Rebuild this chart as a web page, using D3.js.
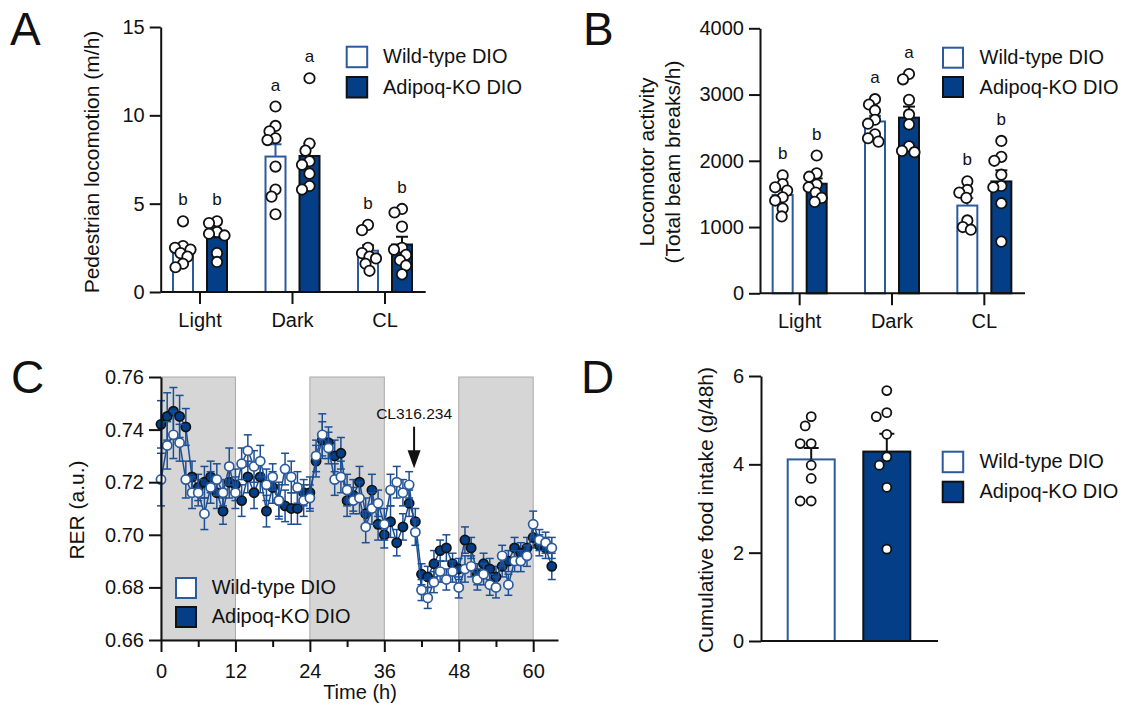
<!DOCTYPE html>
<html>
<head>
<meta charset="utf-8">
<script src="https://cdn.jsdelivr.net/npm/d3@7"></script>
<style>
  body { margin: 0; background: #fff; }
  svg text { font-family: "Liberation Sans", Arial, sans-serif; fill: #111; }
</style>
</head>
<body>
<svg id="fig" width="1132" height="706"></svg>
<script>
// ---- data ----
const periods = ["Light", "Dark", "CL"];
const groups = ["Wild-type DIO", "Adipoq-KO DIO"];

// A: pedestrian locomotion (m/h), one value per animal
const pedWT = [
  [4.0, 2.6, 2.5, 2.4, 2.2, 2.0, 1.6, 1.4],
  [10.5, 9.4, 9.1, 8.7, 8.6, 7.1, 5.8, 5.4, 4.4],
  [3.8, 3.5, 2.5, 2.2, 2.0, 1.9, 1.6, 1.2]
];
const pedKO = [
  [4.0, 3.9, 3.4, 3.3, 3.2, 2.2, 1.7],
  [12.1, 8.4, 8.0, 7.4, 7.2, 6.7, 6.0, 5.8],
  [4.7, 4.5, 3.7, 2.5, 2.4, 2.1, 1.8, 1.5, 1.0]
];
const pedLetters = [["b", "b"], ["a", "a"], ["b", "b"]];
const pedTicks = [0, 5, 10, 15];

// B: locomotor activity (beam breaks/h)
const beamWT = [
  [1780, 1650, 1600, 1550, 1450, 1400, 1280, 1160],
  [2930, 2850, 2760, 2620, 2560, 2400, 2340, 2290],
  [1690, 1560, 1520, 1440, 1100, 1000, 960]
];
const beamKO = [
  [2080, 1810, 1760, 1640, 1600, 1520, 1440, 1380],
  [3310, 3230, 2920, 2700, 2550, 2220, 2150, 2130],
  [2300, 2060, 2000, 1790, 1620, 1600, 1360, 780]
];
const beamLetters = [["b", "b"], ["a", "a"], ["b", "b"]];
const beamTicks = [0, 1000, 2000, 3000, 4000];

// C: RER time course, hourly means and SEM
const hours = d3.range(64);
const rerWT = [0.721, 0.734, 0.738, 0.735, 0.721, 0.716, 0.716, 0.708, 0.718, 0.721,
  0.716, 0.726, 0.716, 0.727, 0.732, 0.726, 0.728, 0.719, 0.722, 0.713,
  0.725, 0.722, 0.718, 0.713, 0.714, 0.730, 0.738, 0.733, 0.721, 0.722,
  0.717, 0.713, 0.714, 0.703, 0.710, 0.712, 0.704, 0.717, 0.720, 0.716,
  0.719, 0.701, 0.679, 0.676, 0.682, 0.686, 0.683, 0.686, 0.680, 0.687,
  0.688, 0.683, 0.685, 0.681, 0.680, 0.692, 0.681, 0.690, 0.690, 0.692,
  0.704, 0.698, 0.697, 0.695];
const rerKO = [0.742, 0.745, 0.747, 0.745, 0.741, 0.722, 0.718, 0.720, 0.722, 0.716,
  0.709, 0.720, 0.719, 0.713, 0.722, 0.716, 0.722, 0.709, 0.718, 0.713,
  0.711, 0.710, 0.710, 0.716, 0.716, 0.728, 0.736, 0.735, 0.730, 0.731,
  0.713, 0.715, 0.720, 0.708, 0.717, 0.704, 0.700, 0.705, 0.697, 0.703,
  0.712, 0.705, 0.685, 0.684, 0.689, 0.694, 0.695, 0.689, 0.687, 0.698,
  0.695, 0.685, 0.689, 0.687, 0.684, 0.688, 0.690, 0.695, 0.693, 0.695,
  0.699, 0.696, 0.695, 0.688];
const semWT = [0.010, 0.009, 0.009, 0.007, 0.007, 0.006, 0.005, 0.006, 0.006, 0.006,
  0.005, 0.007, 0.006, 0.006, 0.006, 0.006, 0.006, 0.006, 0.005, 0.007,
  0.006, 0.006, 0.006, 0.006, 0.005, 0.006, 0.008, 0.006, 0.006, 0.006,
  0.006, 0.005, 0.006, 0.006, 0.006, 0.005, 0.006, 0.006, 0.006, 0.005,
  0.005, 0.005, 0.004, 0.004, 0.004, 0.004, 0.004, 0.004, 0.004, 0.005,
  0.004, 0.004, 0.004, 0.004, 0.004, 0.004, 0.004, 0.004, 0.004, 0.004,
  0.005, 0.004, 0.004, 0.004];
const semKO = [0.009, 0.009, 0.009, 0.008, 0.007, 0.006, 0.005, 0.006, 0.006, 0.006,
  0.005, 0.006, 0.006, 0.006, 0.006, 0.006, 0.006, 0.006, 0.006, 0.006,
  0.006, 0.006, 0.006, 0.005, 0.006, 0.006, 0.007, 0.006, 0.006, 0.006,
  0.006, 0.006, 0.006, 0.006, 0.006, 0.006, 0.005, 0.006, 0.005, 0.005,
  0.005, 0.005, 0.004, 0.004, 0.005, 0.004, 0.005, 0.004, 0.004, 0.005,
  0.004, 0.004, 0.004, 0.004, 0.004, 0.004, 0.004, 0.004, 0.004, 0.004,
  0.004, 0.004, 0.004, 0.005];
const darkPhases = [[0, 12], [24, 36], [48, 60]];
const rerTicks = [0.66, 0.68, 0.70, 0.72, 0.74, 0.76];
const timeTicks = [0, 6, 12, 18, 24, 30, 36, 42, 48, 54, 60];
const clInjection = { time: 40.8, label: "CL316.234" };

// D: cumulative food intake (g/48h)
const foodWT = [5.08, 4.87, 4.47, 4.47, 3.98, 3.68, 3.17, 3.17];
const foodKO = [5.67, 5.17, 5.08, 4.68, 4.17, 3.98, 3.48, 2.08];
const foodTicks = [0, 2, 4, 6];

// ---- styles ----
const NAVY = "#033e86";
const WTBLUE = "#2c5b9c";
const LINEBLUE = "#1d4f94";
const intFmt = d3.format("d");

const svg = d3.select("#fig");

function styleAxis(g, size) {
  g.select(".domain").attr("stroke", "#111").attr("stroke-width", 2);
  g.selectAll(".tick line").attr("stroke", "#111").attr("stroke-width", 2);
  g.selectAll(".tick text").attr("font-size", size || 20)
    .attr("font-family", "Liberation Sans, Arial, sans-serif").attr("fill", "#111");
  g.attr("font-family", null);
}

// simple beeswarm: points sorted by value, pushed sideways until they stop overlapping,
// but never further than maxOff from the column centre
function swarm(vals, y, dmin, maxOff) {
  const order = d3.range(vals.length).sort((a, b) => vals[b] - vals[a]);
  const placed = [];
  const off = new Array(vals.length).fill(0);
  order.forEach(i => {
    const yi = y(vals[i]);
    let best = 0, bestGap = -1;
    for (let k = 0; k < 400; k++) {
      const c = (k % 2 === 0 ? 1 : -1) * Math.ceil(k / 2) * 0.5;
      if (Math.abs(c) > maxOff) break;
      const gap = placed.length ? d3.min(placed, p => Math.hypot(p.x - c, p.y - yi)) : Infinity;
      if (gap >= dmin) { best = c; bestGap = gap; break; }
      if (gap > bestGap) { bestGap = gap; best = c; }
    }
    off[i] = best;
    placed.push({ x: best, y: yi });
  });
  return off;
}

function legend(x, tops, size, textX, baselines) {
  groups.forEach((grp, j) => {
    svg.append("rect")
      .attr("x", x + 1).attr("y", tops[j] + 1)
      .attr("width", size - 2).attr("height", size - 2)
      .attr("fill", j ? NAVY : "#fff")
      .attr("stroke", j ? "#111" : WTBLUE).attr("stroke-width", 2);
    svg.append("text").attr("x", textX).attr("y", baselines[j])
      .attr("font-size", 20).text(grp);
  });
}

function panelLetter(txt, x, y) {
  svg.append("text").attr("x", x).attr("y", y).attr("font-size", 46).text(txt);
}

function yTitle(lines, x, y, lh) {
  const t = svg.append("text").attr("transform", `translate(${x},${y}) rotate(-90)`)
    .attr("text-anchor", "middle").attr("font-size", 21);
  lines.forEach((l, i) => {
    t.append("tspan").attr("x", 0).attr("y", (i - (lines.length - 1)) * lh).text(l);
  });
}

// ---- A and B: grouped bars with individual points ----
function barPanel(p) {
  const g = svg.append("g");
  const x = d3.scaleBand().domain(periods).range(p.xRange);
  const y = d3.scaleLinear().domain(p.yDomain).range(p.yRange);
  const sub = d3.scaleOrdinal().domain(groups).range([-17, 17]);
  const bw = 20;
  const sets = [p.wt, p.ko];

  periods.forEach((per, i) => {
    groups.forEach((grp, j) => {
      const vals = sets[j][i];
      const cx = x(per) + x.bandwidth() / 2 + sub(grp);
      const m = d3.mean(vals);
      const se = d3.deviation(vals) / Math.sqrt(vals.length);
      const col = j ? "#111" : WTBLUE;

      g.append("rect")
        .attr("x", cx - bw / 2).attr("y", y(m))
        .attr("width", bw).attr("height", y(0) - y(m))
        .attr("fill", j ? NAVY : "#fff")
        .attr("stroke", col).attr("stroke-width", 2);

      g.append("line").attr("x1", cx).attr("x2", cx)
        .attr("y1", y(m)).attr("y2", y(m + se))
        .attr("stroke", col).attr("stroke-width", 2);
      g.append("line").attr("x1", cx - 6).attr("x2", cx + 6)
        .attr("y1", y(m + se)).attr("y2", y(m + se))
        .attr("stroke", col).attr("stroke-width", 2);

      const off = swarm(vals, y, 8, 8);
      g.selectAll(null).data(vals).enter().append("circle")
        .attr("cx", (d, k) => cx + off[k])
        .attr("cy", d => y(d))
        .attr("r", 5.2)
        .attr("fill", "#fff").attr("stroke", "#111").attr("stroke-width", 1.8);

      g.append("text").attr("x", cx).attr("y", y(d3.max(vals)) - 16)
        .attr("text-anchor", "middle").attr("font-size", 17)
        .text(p.letters[i][j]);
    });
  });

  const ax = g.append("g").attr("transform", `translate(0,${y(0)})`)
    .call(d3.axisBottom(x).tickSize(12).tickPadding(9).tickSizeOuter(0));
  ax.select(".domain").attr("d", `M${p.axisX[0]},0H${p.axisX[1]}`);
  styleAxis(ax, 20);

  const ay = g.append("g").attr("transform", `translate(${p.axisX[0]},0)`)
    .call(d3.axisLeft(y).tickValues(p.ticks).tickFormat(intFmt)
      .tickSize(11).tickPadding(5).tickSizeOuter(0));
  styleAxis(ay, 20);
}

barPanel({
  wt: pedWT, ko: pedKO, letters: pedLetters, ticks: pedTicks,
  xRange: [153.75, 431.25], yDomain: [0, 15], yRange: [292, 27], axisX: [160.7, 425.7]
});
barPanel({
  wt: beamWT, ko: beamKO, letters: beamLetters, ticks: beamTicks,
  xRange: [753.5, 1030.5], yDomain: [0, 4000], yRange: [293.3, 28.3], axisX: [760, 1025]
});

// ---- C: RER time course ----
{
  const g = svg.append("g");
  const x = d3.scaleLinear().domain([0, 64]).range([161, 558]);
  const y = d3.scaleLinear().domain([0.66, 0.76]).range([640, 377]);

  g.selectAll(null).data(darkPhases).enter().append("rect")
    .attr("x", d => x(d[0])).attr("y", y(0.76))
    .attr("width", d => x(d[1]) - x(d[0])).attr("height", y(0.66) - y(0.76))
    .attr("fill", "#d6d6d6").attr("stroke", "#a9a9a9").attr("stroke-width", 1);

  const series = [
    { vals: rerKO, sem: semKO, fill: NAVY, stroke: "#111" },
    { vals: rerWT, sem: semWT, fill: "#fff", stroke: WTBLUE }
  ];
  const line = d3.line().x((d, i) => x(hours[i])).y(d => y(d));

  series.forEach(s => {
    g.append("path").datum(s.vals).attr("d", line)
      .attr("fill", "none").attr("stroke", LINEBLUE).attr("stroke-width", 1.5);
    const eb = g.append("g").attr("stroke", LINEBLUE).attr("stroke-width", 1.5);
    hours.forEach((h, i) => {
      const lo = y(s.vals[i] - s.sem[i]), hi = y(s.vals[i] + s.sem[i]);
      eb.append("line").attr("x1", x(h)).attr("x2", x(h)).attr("y1", lo).attr("y2", hi);
      eb.append("line").attr("x1", x(h) - 4).attr("x2", x(h) + 4).attr("y1", lo).attr("y2", lo);
      eb.append("line").attr("x1", x(h) - 4).attr("x2", x(h) + 4).attr("y1", hi).attr("y2", hi);
    });
    g.selectAll(null).data(s.vals).enter().append("circle")
      .attr("cx", (d, i) => x(hours[i])).attr("cy", d => y(d))
      .attr("r", 4.6).attr("fill", s.fill)
      .attr("stroke", s.stroke).attr("stroke-width", 1.7);
  });

  // injection arrow
  const ax0 = x(clInjection.time);
  g.append("text").attr("x", ax0).attr("y", y(0.7439))
    .attr("text-anchor", "middle").attr("font-size", 15.5).attr("fill", "#333")
    .text(clInjection.label);
  g.append("line").attr("x1", ax0).attr("x2", ax0)
    .attr("y1", y(0.7411)).attr("y2", y(0.7315))
    .attr("stroke", "#111").attr("stroke-width", 2);
  const tip = y(0.7253);
  g.append("path").attr("d", `M${ax0 - 6.5},${tip - 18}L${ax0 + 6.5},${tip - 18}L${ax0},${tip}Z`)
    .attr("fill", "#111");

  const xa = g.append("g").attr("transform", `translate(0,${y(0.66)})`)
    .call(d3.axisBottom(x).tickValues(timeTicks).tickSize(12).tickPadding(12).tickSizeOuter(0)
      .tickFormat(d => d % 12 === 0 ? d : ""));
  xa.selectAll(".tick").filter(d => d % 12 !== 0).select("line").attr("y2", 7);
  styleAxis(xa, 20);

  const ya = g.append("g").attr("transform", `translate(${x(0)},0)`)
    .call(d3.axisLeft(y).tickValues(rerTicks).tickFormat(d3.format(".2f"))
      .tickSize(12).tickPadding(5).tickSizeOuter(0));
  styleAxis(ya, 20);

  svg.append("text").attr("x", 360).attr("y", 699).attr("text-anchor", "middle")
    .attr("font-size", 20).text("Time (h)");
}

// ---- D: food intake ----
{
  const g = svg.append("g");
  const x = d3.scaleBand().domain(groups).range([773.4, 924.6]);
  const y = d3.scaleLinear().domain([0, 6]).range([641, 376]);
  const bw = 47;
  [foodWT, foodKO].forEach((vals, j) => {
    const cx = x(groups[j]) + x.bandwidth() / 2;
    const m = d3.mean(vals);
    const se = d3.deviation(vals) / Math.sqrt(vals.length);
    g.append("rect").attr("x", cx - bw / 2).attr("y", y(m))
      .attr("width", bw).attr("height", y(0) - y(m))
      .attr("fill", j ? NAVY : "#fff")
      .attr("stroke", j ? "#111" : WTBLUE).attr("stroke-width", 2);
    g.append("line").attr("x1", cx).attr("x2", cx).attr("y1", y(m)).attr("y2", y(m + se))
      .attr("stroke", "#111").attr("stroke-width", 2);
    g.append("line").attr("x1", cx - 7.5).attr("x2", cx + 7.5).attr("y1", y(m + se)).attr("y2", y(m + se))
      .attr("stroke", "#111").attr("stroke-width", 2);
    const off = swarm(vals, y, 11, 13);
    g.selectAll(null).data(vals).enter().append("circle")
      .attr("cx", (d, k) => cx + off[k]).attr("cy", d => y(d))
      .attr("r", 4.5).attr("fill", "#fff").attr("stroke", "#111").attr("stroke-width", 1.8);
  });

  const xa = g.append("g").attr("transform", `translate(0,${y(0)})`)
    .call(d3.axisBottom(x).tickSize(0).tickFormat(""));
  xa.select(".domain").attr("d", "M761,0H938");
  styleAxis(xa, 20);
  const ya = g.append("g").attr("transform", "translate(761,0)")
    .call(d3.axisLeft(y).tickValues(foodTicks).tickFormat(intFmt)
      .tickSize(12).tickPadding(5).tickSizeOuter(0));
  styleAxis(ya, 20);
}

// ---- titles, legends, panel letters ----
yTitle(["Pedestrian locomotion (m/h)"], 99, 162, 26);
yTitle(["Locomotor activity", "(Total beam breaks/h)"], 680, 162, 26);
yTitle(["RER (a.u.)"], 84, 510, 26);
yTitle(["Cumulative food intake (g/48h)"], 713, 510, 26);

legend(345.7, [45.7, 76], 22.5, 383, [63, 94]);
legend(942, [46.7, 76], 22, 979.6, [64, 94]);
legend(175, [577, 606], 22, 211.7, [594, 623]);
legend(941.7, [450.7, 480.7], 22.5, 979.4, [468.3, 498.3]);

panelLetter("A", 10, 45);
panelLetter("B", 583, 45);
panelLetter("C", 11, 393);
panelLetter("D", 581, 393);
</script>
</body>
</html>
